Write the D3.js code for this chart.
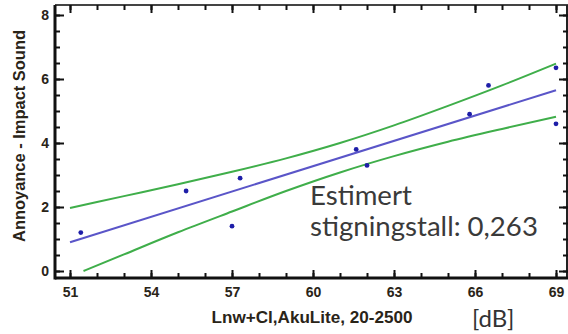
<!DOCTYPE html>
<html>
<head>
<meta charset="utf-8">
<script src="https://cdn.jsdelivr.net/npm/d3@7"></script>
<style>
  body { margin: 0; background: #fff; }
  svg { display: block; }
</style>
</head>
<body>
<div id="chart"></div>
<script>
// measured points (dB, annoyance)
const pointX = [51.4, 55.3, 57.3, 57.0, 61.6, 62.0, 65.8, 66.5, 69.0, 69.0];
const pointY = [1.2, 2.5, 2.9, 1.4, 3.8, 3.3, 4.9, 5.8, 6.35, 4.6];

// fitted line and confidence band
const fitX = [51, 69];
const fitY = [0.9, 5.65];
const bandX = [51, 53, 55, 57, 59, 61, 63, 65, 67, 69];
const upperY = [1.97, 2.34, 2.71, 3.1, 3.52, 4.0, 4.55, 5.16, 5.8, 6.48];
const lowerX = [51.5, 53, 55, 57, 59, 61, 63, 65, 67, 69];
const lowerY = [0.0, 0.52, 1.21, 1.86, 2.5, 3.08, 3.59, 4.04, 4.44, 4.82];

const xTicks = [51, 54, 57, 60, 63, 66, 69];
const yTicks = [0, 2, 4, 6, 8];

const width = 568, height = 334;
const svg = d3.select("#chart").append("svg")
  .attr("width", width).attr("height", height);

const x = d3.scaleLinear().domain([51, 69]).range([70, 556]);
const y = d3.scaleLinear().domain([0, 8]).range([271, 15]);

const frameL = 55, frameR = 568, frameT = 5, frameB = 278;

// frame
svg.append("line").attr("x1", frameL).attr("x2", frameR).attr("y1", frameT).attr("y2", frameT)
  .attr("stroke", "#444").attr("stroke-width", 2);
svg.append("line").attr("x1", frameR - 1).attr("x2", frameR - 1).attr("y1", frameT).attr("y2", frameB)
  .attr("stroke", "#222").attr("stroke-width", 2);

const minorX = d3.range(51, 69.5, 1);
const minorY = d3.range(0, 8.25, 0.5);

function tickGroup(g) {
  g.select(".domain").remove();
  g.selectAll(".tick line").attr("stroke", "#111").attr("stroke-width", 2);
}

// minor ticks
svg.append("g").attr("transform", `translate(0,${frameB})`)
  .call(d3.axisBottom(x).tickValues(minorX).tickSize(-5).tickFormat(""))
  .call(tickGroup);
svg.append("g").attr("transform", `translate(0,${frameT})`)
  .call(d3.axisTop(x).tickValues(minorX).tickSize(-5).tickFormat(""))
  .call(tickGroup);
svg.append("g").attr("transform", `translate(${frameL},0)`)
  .call(d3.axisLeft(y).tickValues(minorY).tickSize(-5).tickFormat(""))
  .call(tickGroup);
svg.append("g").attr("transform", `translate(${frameR},0)`)
  .call(d3.axisRight(y).tickValues(minorY).tickSize(-5).tickFormat(""))
  .call(tickGroup);

// major ticks with labels
const xAxis = svg.append("g").attr("transform", `translate(0,${frameB})`)
  .call(d3.axisBottom(x).tickValues(xTicks).tickSize(-8).tickPadding(9).tickFormat(d3.format("d")))
  .call(tickGroup);
svg.append("g").attr("transform", `translate(0,${frameT})`)
  .call(d3.axisTop(x).tickValues(xTicks).tickSize(-8).tickFormat(""))
  .call(tickGroup);
const yAxis = svg.append("g").attr("transform", `translate(${frameL},0)`)
  .call(d3.axisLeft(y).tickValues(yTicks).tickSize(-9).tickPadding(6).tickFormat(d3.format("d")))
  .call(tickGroup);
svg.append("g").attr("transform", `translate(${frameR},0)`)
  .call(d3.axisRight(y).tickValues(yTicks).tickSize(-9).tickFormat(""))
  .call(tickGroup);

[xAxis, yAxis].forEach(a => a.selectAll("text")
  .attr("font-family", "Liberation Sans, Arial, sans-serif")
  .attr("font-weight", "bold").attr("font-size", 14).attr("fill", "#2a2418"));

// axis lines
svg.append("line").attr("x1", frameL).attr("x2", frameR).attr("y1", frameB).attr("y2", frameB)
  .attr("stroke", "#111").attr("stroke-width", 3);
svg.append("line").attr("x1", frameL).attr("x2", frameL).attr("y1", frameT).attr("y2", frameB + 1.5)
  .attr("stroke", "#111").attr("stroke-width", 3);

// confidence band
const line = d3.line().x(d => x(d[0])).y(d => y(d[1])).curve(d3.curveMonotoneX);
svg.append("path").datum(d3.zip(bandX, upperY)).attr("d", line)
  .attr("fill", "none").attr("stroke", "#3fae4a").attr("stroke-width", 2);
svg.append("path").datum(d3.zip(lowerX, lowerY)).attr("d", line)
  .attr("fill", "none").attr("stroke", "#3fae4a").attr("stroke-width", 2);

// fitted line
svg.append("path").datum(d3.zip(fitX, fitY)).attr("d", line)
  .attr("fill", "none").attr("stroke", "#5a55c8").attr("stroke-width", 2);

// points
svg.selectAll("circle.pt").data(d3.zip(pointX, pointY)).enter()
  .append("circle").attr("class", "pt")
  .attr("cx", d => x(d[0])).attr("cy", d => y(d[1])).attr("r", 2.4)
  .attr("fill", "#1e1ea8");

// axis titles
svg.append("text")
  .attr("transform", `translate(25,136) rotate(-90)`)
  .attr("text-anchor", "middle")
  .attr("font-family", "Liberation Sans, Arial, sans-serif")
  .attr("font-weight", "bold").attr("font-size", 16).attr("fill", "#2a2418")
  .attr("textLength", 212).attr("lengthAdjust", "spacingAndGlyphs")
  .text("Annoyance - Impact Sound");

svg.append("text").attr("x", 312).attr("y", 323).attr("text-anchor", "middle")
  .attr("font-family", "Liberation Sans, Arial, sans-serif")
  .attr("font-weight", "bold").attr("font-size", 16).attr("fill", "#2a2418")
  .attr("textLength", 201).attr("lengthAdjust", "spacingAndGlyphs")
  .text("Lnw+Cl,AkuLite, 20-2500");

svg.append("text").attr("x", 472).attr("y", 327)
  .attr("font-family", "Lato, Noto Sans, sans-serif")
  .attr("font-size", 24).attr("fill", "#333")
  .text("[dB]");

// annotation
const note = svg.append("g")
  .attr("font-family", "Lato, Noto Sans, sans-serif")
  .attr("fill", "#3a3a3a").attr("font-size", 25);
note.append("text").attr("x", 310).attr("y", 205).text("Estimert");
const n2 = note.append("text").attr("x", 310).attr("y", 236).text("stigningstall: 0,263");
const w = n2.node().getComputedTextLength();
note.attr("font-size", 25 * 228 / w);
</script>
</body>
</html>
